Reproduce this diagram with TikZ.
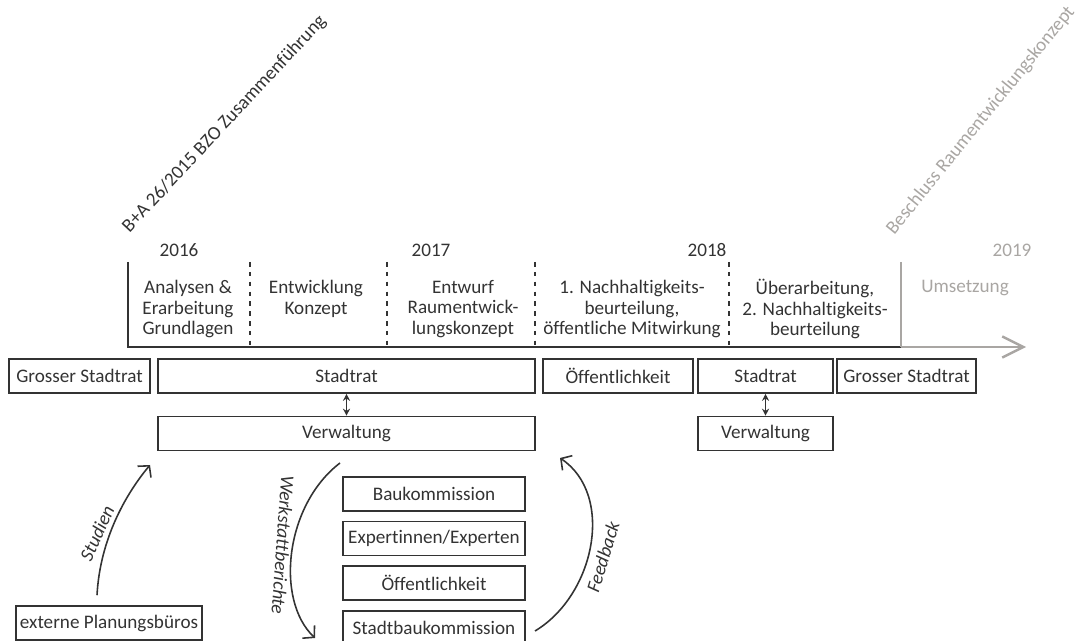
\documentclass[tikz,border=0pt]{standalone}
\usepackage{fontspec}
\setmainfont{Carlito}[Ligatures=NoCommon]
\usetikzlibrary{arrows.meta,positioning}
\definecolor{ink}{HTML}{333333}
\definecolor{pale}{HTML}{A9A6A3}
\tikzset{
  box/.style={draw=ink,line width=0.9pt,inner sep=0pt,minimum height=0.68cm,text=ink},
  phase/.style={align=center,text=ink},
  flow/.style={draw=ink,line width=0.9pt,-{Straight Barb[length=4.5pt,width=10pt]}},
  link/.style={draw=ink,line width=0.9pt,{Stealth[length=4pt,width=4pt]}-{Stealth[length=4pt,width=4pt]}},
  sep/.style={draw=ink,line width=1.4pt,dash pattern=on 2.6pt off 3pt},
}
\begin{document}
\begin{tikzpicture}[x=0.02cm,y=-0.02cm,font=\fontsize{10.9}{11.9}\selectfont]
\useasboundingbox (0,0) rectangle (1078,641);
\draw[ink,line width=1.4pt] (128,262) -- (128,347) -- (901,347);
\draw[pale,line width=1.4pt] (901,262) -- (901,347);
\draw[pale,line width=1.4pt,-{Straight Barb[length=12pt,width=12pt]}] (901,347) -- (1026,347);
\foreach \x in {250,387,535,729}
  \draw[sep] (\x,262) -- (\x,347);

\node[text=ink] (y16) at (179,250) {2016};
\node[text=ink] (y17) at (431,250) {2017};
\node[text=ink] (y18) at (707,250) {2018};
\node[text=pale] (y19) at (1012,250) {2019};
\node[text=ink,rotate=47,anchor=south west,inner sep=0pt] (m1) at (132,236) {B+A 26/2015 BZO Zusammenführung};
\node[text=pale,rotate=51,anchor=south west,inner sep=0pt] (m2) at (897,238) {Beschluss Raumentwicklungskonzept};

\node[phase] (p1) at (188,309) {Analysen \&\\Erarbeitung\\Grundlagen};
\node[phase] (p2) at (316,298.5) {Entwicklung\\Konzept};
\node[phase] (p3) at (463,309) {Entwurf\\Raumentwick-\\lungskonzept};
\node[phase] (p4) at (632,309) {1. Nachhaltigkeits-\\beurteilung,\\öffentliche Mitwirkung};
\node[phase] (p5) at (815,309) {Überarbeitung,\\2. Nachhaltigkeits-\\beurteilung};
\node[phase,text=pale] (p6) at (965,288) {Umsetzung};

\node[box,minimum width=2.82cm] (gsr1) at (79.5,376) {Grosser Stadtrat};
\node[box,minimum width=7.54cm] (sr1) at (346.5,376) {Stadtrat};
\node[box,minimum width=3.0cm] (oef1) at (618,376) {Öffentlichkeit};
\node[box,minimum width=2.7cm] (sr2) at (765.5,376) {Stadtrat};
\node[box,minimum width=2.78cm] (gsr2) at (906.5,376) {Grosser Stadtrat};
\node[box,minimum width=7.54cm] (vw1) at (346.5,433.5) {Verwaltung};
\node[box,minimum width=2.7cm] (vw2) at (765.5,433.5) {Verwaltung};
\draw[link] (sr1) -- (vw1);
\draw[link] (sr2) -- (vw2);

\node[box,minimum width=3.64cm] (bk) at (434,494) {Baukommission};
\node[box,minimum width=3.64cm,below=0.18cm of bk] (exp) {Expertinnen/Experten};
\node[box,minimum width=3.64cm,below=0.18cm of exp] (oef2) {Öffentlichkeit};
\node[box,minimum width=3.64cm,below=0.18cm of oef2] (sbk) {Stadtbaukommission};
\node[box,minimum width=3.72cm] (ext) at (109,623) {externe Planungsbüros};

\coordinate (st) at (150,465);
\coordinate (wa) at (340,463);
\coordinate (wb) at (315,638);
\coordinate (fa) at (535,631);
\coordinate (fb) at (560,458);
\draw[flow] ([shift={(-12,-10)}]ext.north) .. controls (100,540) and (125,495) .. (st);
\draw[flow] (wa) .. controls (285,505) and (275,600) .. (wb);
\draw[flow] (fa) .. controls (595,595) and (615,495) .. (fb);
\node[text=ink,font=\fontsize{10.9}{11.9}\selectfont\itshape,rotate=66] (l1) at (97,533) {Studien};
\node[text=ink,font=\fontsize{10.9}{11.9}\selectfont\itshape,rotate=-94] (l2) at (283,545) {Werkstattberichte};
\node[text=ink,font=\fontsize{10.9}{11.9}\selectfont\itshape,rotate=73] (l3) at (603,557) {Feedback};
\end{tikzpicture}
\end{document}
